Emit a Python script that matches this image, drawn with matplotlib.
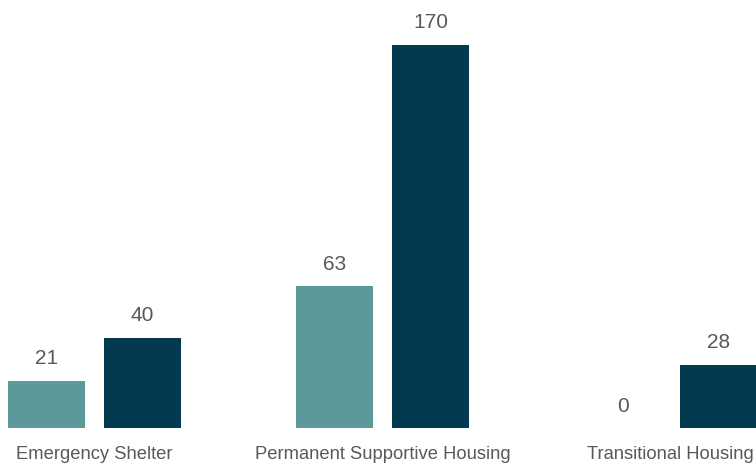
import matplotlib
matplotlib.use("Agg")
import matplotlib.pyplot as plt
import numpy as np

categories = ["Emergency Shelter", "Permanent Supportive Housing", "Transitional Housing"]
series_a = [21, 63, 0]
series_b = [40, 170, 28]

C_A = "#5b999a"
C_B = "#033a50"
C_TEXT = "#595959"

plt.rcParams["font.family"] = ["Liberation Sans", "DejaVu Sans"]

fig = plt.figure(figsize=(7.56, 4.65), dpi=100)
ax = fig.add_axes([0, 37 / 465, 1, 428 / 465])

x = np.arange(len(categories))
w = 77 / 288
off = 48 / 288
bars_a = ax.bar(x - off, series_a, w, color=C_A)
bars_b = ax.bar(x + off, series_b, w, color=C_B)

for bars in (bars_a, bars_b):
    for b in bars:
        h = b.get_height()
        ax.annotate(f"{h:g}", (b.get_x() + b.get_width() / 2, h),
                    xytext=(0, 9), textcoords="offset points",
                    ha="center", va="bottom", fontsize=15, color=C_TEXT)

ax.set_xlim(-94.5 / 288, (756 - 94.5) / 288)
ax.set_ylim(0, 428 / 2.253)
ax.set_xticks(x)
ax.set_xticklabels(categories, fontsize=13.2, color=C_TEXT)
ax.tick_params(axis="x", length=0, pad=13)
ax.set_yticks([])
for s in ax.spines.values():
    s.set_visible(False)

fig.savefig("out.png", dpi=100)
